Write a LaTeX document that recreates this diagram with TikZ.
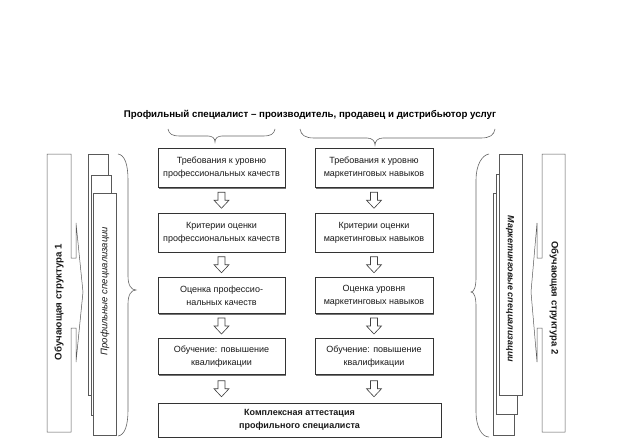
\documentclass[tikz,border=0pt]{standalone}
\usepackage{fontspec}
\setmainfont{Liberation Sans}
\usetikzlibrary{calc,shadows}
\tikzset{
  harrow/.pic={\draw[line width=0.6pt, draw=black!75, fill=white, line join=miter]
    (-3.5,-8) -- (3.5,-8) -- (3.5,0) -- (7.5,0) -- (0,8) -- (-7.5,0) -- (-3.5,0) -- cycle;},
  box/.style={draw=black!80, line width=0.6pt, fill=white, inner sep=1pt, align=center,
    font=\fontsize{9}{13}\selectfont, text=black!90,
    drop shadow={shadow xshift=1.4pt, shadow yshift=-1.4pt, fill=black!55, opacity=1}},
  lbox/.style={box, minimum width=127pt},
  rbox/.style={box, minimum width=118pt},
  tall/.style={minimum height=39pt},
  short/.style={minimum height=36pt},
  stack/.style={draw=black!65, line width=0.5pt, fill=white},
  brc/.style={draw=black!60, line width=0.6pt},
  vlabel/.style={inner sep=0pt, text=black!90},
}
\begin{document}
\begin{tikzpicture}[x=1pt,y=-1pt]
\fill[white] (0,0) rectangle (624,444);
\useasboundingbox (0,0) rectangle (624,444);

% title
\node[inner sep=0pt, font=\bfseries\fontsize{9.7}{11}\selectfont] (title) at (310,115)
  {Профильный специалист – производитель, продавец и дистрибьютор услуг};

% top braces
\draw[brc] (168,129) .. controls (169,134) and (172,136) .. (180,136) -- (208,136)
  .. controls (212,136) and (215,138) .. (215,142)
  .. controls (215,138) and (218,136) .. (222,136) -- (263,136)
  .. controls (271,136) and (274,134) .. (275,129);
\draw[brc] (300,129) .. controls (301,135) and (305,138) .. (314,138) -- (367,138)
  .. controls (372,138) and (375,141) .. (375,145)
  .. controls (375,141) and (378,138) .. (383,138) -- (481,138)
  .. controls (490,138) and (494,135) .. (495,129);

% left training structure 1
\draw[stack] (47,154) -- (71,154) -- (71,258) -- (76,258) -- (76,223) -- (83,292)
  -- (76,362) -- (76,328) -- (71,328) -- (71,432) -- (47,432) -- cycle;
\node[vlabel, rotate=90, font=\bfseries\fontsize{9.7}{11}\selectfont] (ob1) at (59,302) {Обучающая структура 1};

% left stack
\draw[stack] (88,154) rectangle (108,395);
\draw[stack] (91,175) rectangle (111,415);
\draw[stack] (93,193) rectangle (116,435);
\node[vlabel, rotate=90, font=\itshape\fontsize{9.5}{11}\selectfont] (prof) at (105,291) {Профильные специализации};

% left brace
\draw[brc] (118,154) .. controls (125,155) and (128,165) .. (128,180) -- (128,276)
  .. controls (128,285) and (131,290) .. (136,290)
  .. controls (131,290) and (128,295) .. (128,304) -- (128,410)
  .. controls (128,425) and (125,435) .. (118,436);

% right training structure 2
\draw[stack] (542,154) -- (565,154) -- (565,432) -- (542,432) -- (542,328) -- (537,328)
  -- (537,362) -- (531,292) -- (537,223) -- (537,258) -- (542,258) -- cycle;
\node[vlabel, rotate=-90, font=\bfseries\fontsize{9.5}{11}\selectfont] (ob2) at (554,298) {Обучающая структура 2};

% right stack
\draw[stack] (493,193) rectangle (514,435);
\draw[stack] (496,174) rectangle (517,414);
\draw[stack] (499,154) rectangle (522,395);
\node[vlabel, rotate=-90, font=\bfseries\itshape\fontsize{9}{11}\selectfont] (mark) at (510,289) {Маркетинговые специализации};

% right brace
\draw[brc] (489,154) .. controls (482,155) and (476,165) .. (476,180) -- (476,278)
  .. controls (476,287) and (474,292) .. (471,292)
  .. controls (474,292) and (476,297) .. (476,306) -- (476,412)
  .. controls (476,427) and (482,437) .. (489,437);

% boxes
\node[lbox, tall]  (lb1) at (221.5,168) {Требования к уровню\\профессиональных качеств};
\node[lbox, tall]  (lb2) at (221.5,232.5) {Критерии оценки\\профессиональных качеств};
\node[lbox, short] (lb3) at (221.5,295.5) {Оценка профессио-\\нальных качеств};
\node[lbox, short] (lb4) at (221.5,356.5) {Обучение: повышение\\квалификации};

\node[rbox, tall]  (rb1) at (374,168) {Требования к уровню\\маркетинговых навыков};
\node[rbox, tall]  (rb2) at (374,232.5) {Критерии оценки\\маркетинговых навыков};
\node[rbox, short] (rb3) at (374,295.5) {Оценка уровня\\маркетинговых навыков};
\node[rbox, short] (rb4) at (374,356.5) {Обучение: повышение\\квалификации};

\node[box, minimum width=283pt, minimum height=34pt, font=\bfseries\fontsize{9}{13}\selectfont]
  (fb) at (299.5,420) {Комплексная аттестация\\профильного специалиста};

% hollow arrows
\path ($(lb1.south)!0.5!(lb2.north)$) pic {harrow};
\path ($(lb2.south)!0.5!(lb3.north)$) pic {harrow};
\path ($(lb3.south)!0.5!(lb4.north)$) pic {harrow};
\path ($(lb4.south)!0.5!(lb4.south |- fb.north)$) pic {harrow};
\path ($(rb1.south)!0.5!(rb2.north)$) pic {harrow};
\path ($(rb2.south)!0.5!(rb3.north)$) pic {harrow};
\path ($(rb3.south)!0.5!(rb4.north)$) pic {harrow};
\path ($(rb4.south)!0.5!(rb4.south |- fb.north)$) pic {harrow};
\end{tikzpicture}
\end{document}
